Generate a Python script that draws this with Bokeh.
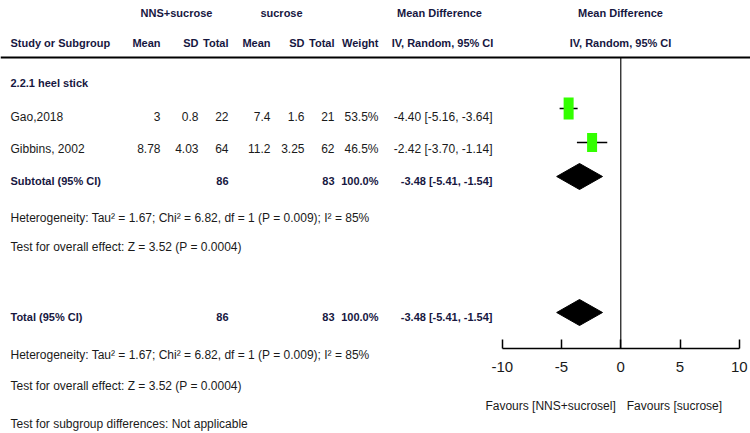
from bokeh.plotting import figure
from bokeh.models import Range1d, LinearAxis, FixedTicker, Span, PrintfTickFormatter
from bokeh.core.properties import value
from bokeh.embed import file_html
from bokeh.resources import INLINE

# ---------------- data ----------------
studies = ["Gao,2018", "Gibbins, 2002"]
nns_mean = [3, 8.78]
nns_sd = [0.8, 4.03]
nns_n = [22, 64]
suc_mean = [7.4, 11.2]
suc_sd = [1.6, 3.25]
suc_n = [21, 62]
weights = [53.5, 46.5]
md = [-4.40, -2.42]
md_lo = [-5.16, -3.70]
md_hi = [-3.64, -1.14]
pooled = [-3.48, -5.41, -1.54]   # estimate, lower, upper
tot_nns = 86
tot_suc = 83
tot_weight = 100.0
het_text = "Heterogeneity: Tau\u00b2 = 1.67; Chi\u00b2 = 6.82, df = 1 (P = 0.009); I\u00b2 = 85%"
effect_text = "Test for overall effect: Z = 3.52 (P = 0.0004)"
subgroup_text = "Test for subgroup differences: Not applicable"
ticks = [-10, -5, 0, 5, 10]

# ---------------- layout ----------------
FONT_NAME = "Liberation Sans"
FONT = value(FONT_NAME)
NORMAL = "#1a1a1a"
STRONG = "#17173f"
W, H = 750, 433
NS, BS = "12px", "11px"
# rows (page y, centre of text)
Y_H1, Y_H2, Y_RULE = 12, 42, 57
Y_GROUP = 82
Y_STUDY = [116, 148]
Y_SUB = 180
Y_HET1, Y_EFF1 = 217, 246
Y_TOT = 316
Y_HET2, Y_EFF2, Y_SG = 354, 385, 423
Y_AXIS = 348
MARK_SHIFT = [-8, -6]
DIAMOND_SHIFT = -4
# columns (page x)
X_STUDY = 10
X_NMEAN, X_NSD, X_NN = 160, 198, 228
X_SMEAN, X_SSD, X_SN = 270, 304, 334
X_W = 378
X_MD = 492
X_MDH = 442

p = figure(width=W, height=H, output_backend="svg", toolbar_location=None,
           x_range=Range1d(-52.35, 10.95), y_range=Range1d(433, 0),
           x_axis_location=None, y_axis_location=None, min_border=0,
           outline_line_color=None)
p.extra_x_ranges = {"px": Range1d(0, 750)}
p.xgrid.visible = False
p.ygrid.visible = False


def put(x, y, s, align="left", bold=False, color=None, size=NS, rng="px", xoff=0, font=FONT):
    kw = {}
    if rng:
        kw["x_range_name"] = rng
    p.text(x=[x], y=[y], text=[s], text_align=align, text_baseline="middle",
           text_font=font, text_font_size=size,
           text_font_style="bold" if bold else "normal",
           text_color=color or (STRONG if bold else NORMAL), x_offset=xoff, **kw)


# headers
put(176, Y_H1, "NNS+sucrose", "center", True, size=BS)
put(281, Y_H1, "sucrose", "center", True, size=BS)
put(439, Y_H1, "Mean Difference", "center", True, size=BS)
put(620, Y_H1, "Mean Difference", "center", True, size=BS)
put(X_STUDY, Y_H2, "Study or Subgroup", "left", True, size=BS)
for x, s in [(X_NMEAN, "Mean"), (X_NSD, "SD"), (X_NN, "Total"), (X_SMEAN, "Mean"),
             (X_SSD, "SD"), (X_SN, "Total"), (X_W, "Weight")]:
    put(x, Y_H2, s, "right", True, size=BS)
put(X_MDH, Y_H2, "IV, Random, 95% CI", "center", True, size=BS)
put(620, Y_H2, "IV, Random, 95% CI", "center", True, size=BS)

p.add_layout(Span(location=Y_RULE, dimension="width", line_color="black", line_width=2))

put(X_STUDY, Y_GROUP, "2.2.1 heel stick", "left", True, size=BS)


def fmt(v):
    return f"{v:g}"


for i, s in enumerate(studies):
    y = Y_STUDY[i]
    put(X_STUDY, y, s)
    put(X_NMEAN, y, fmt(nns_mean[i]), "right")
    put(X_NSD, y, fmt(nns_sd[i]), "right")
    put(X_NN, y, str(nns_n[i]), "right")
    put(X_SMEAN, y, fmt(suc_mean[i]), "right")
    put(X_SSD, y, fmt(suc_sd[i]), "right")
    put(X_SN, y, str(suc_n[i]), "right")
    put(X_W, y, f"{weights[i]:.1f}%", "right")
    put(X_MD, y, f"{md[i]:.2f} [{md_lo[i]:.2f}, {md_hi[i]:.2f}]", "right")

for y, label in [(Y_SUB, "Subtotal (95% CI)"), (Y_TOT, "Total (95% CI)")]:
    put(X_STUDY, y, label, "left", True, size=BS)
    put(X_NN, y, str(tot_nns), "right", True, size=BS)
    put(X_SN, y, str(tot_suc), "right", True, size=BS)
    put(X_W, y, f"{tot_weight:.1f}%", "right", True, size=BS)
    put(X_MD, y, f"{pooled[0]:.2f} [{pooled[1]:.2f}, {pooled[2]:.2f}]", "right", True, size=BS)

for y, s in [(Y_HET1, het_text), (Y_EFF1, effect_text), (Y_HET2, het_text),
             (Y_EFF2, effect_text), (Y_SG, subgroup_text)]:
    put(X_STUDY, y, s)

# ---------------- forest ----------------
p.segment(x0=[0], y0=[Y_RULE], x1=[0], y1=[Y_AXIS], line_color="#222222", line_width=1.3)

ys = [y + s for y, s in zip(Y_STUDY, MARK_SHIFT)]
p.segment(x0=md_lo, y0=ys, x1=md_hi, y1=ys, line_color="black", line_width=1.5)
p.rect(x=md, y=ys, width=[10, 10], height=[22, 19], width_units="screen",
       height_units="screen", fill_color="#33ff00", line_color=None)

for y in [Y_SUB + DIAMOND_SHIFT, Y_TOT + DIAMOND_SHIFT]:
    h = 13
    p.patch(x=[pooled[1], pooled[0], pooled[2], pooled[0]], y=[y, y - h, y, y + h],
            fill_color="black", line_color="black")

axis = LinearAxis(fixed_location=Y_AXIS, ticker=FixedTicker(ticks=ticks), bounds=(-10, 10),
                  formatter=PrintfTickFormatter(format="%d"),
                  major_tick_in=9, major_tick_out=0, minor_tick_in=0, minor_tick_out=0,
                  axis_line_width=1.5, major_tick_line_width=1.5,
                  major_label_standoff=13, major_label_text_font=FONT_NAME,
                  major_label_text_font_size="15px", major_label_text_color=NORMAL)
p.add_layout(axis, "below")

put(0, 405, "Favours [NNS+sucrosel]", "right", rng=None, xoff=-5)
put(0, 405, "Favours [sucrose]", "left", rng=None, xoff=6)

open("out.html", "w").write(file_html(p, INLINE))
